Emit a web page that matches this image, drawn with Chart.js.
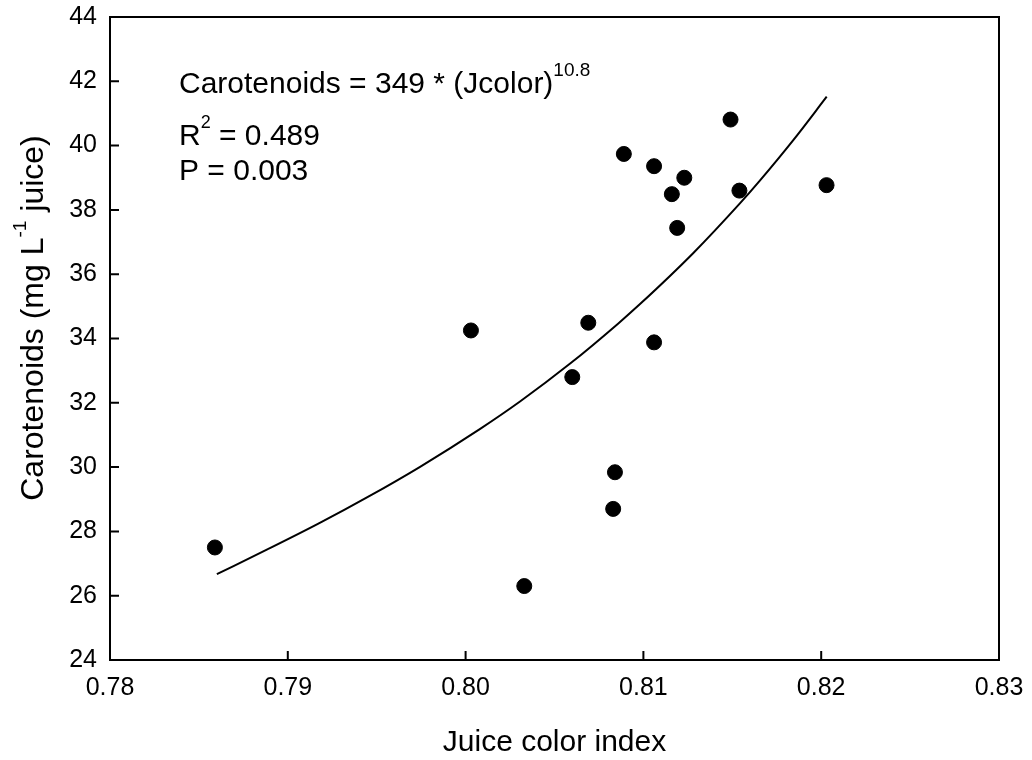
<!DOCTYPE html>
<html>
<head>
<meta charset="utf-8">
<script src="https://cdn.jsdelivr.net/npm/chart.js@4.4.1/dist/chart.umd.min.js"></script>
<style>
  body { margin: 0; background: #fff; }
  #wrap { width: 1032px; height: 760px; }
</style>
</head>
<body>
<div id="wrap"><canvas id="carotChart"></canvas></div>
<script>
// Observed data (juice color index vs carotenoids)
const colorIndex = [0.7859, 0.8003, 0.8033, 0.8060, 0.8069, 0.8084, 0.8083, 0.8089,
                    0.8106, 0.8106, 0.8116, 0.8119, 0.8123, 0.8149, 0.8154, 0.8203];
const carotenoids = [27.50, 34.25, 26.30, 32.80, 34.49, 29.84, 28.70, 39.74,
                     33.88, 39.36, 38.49, 37.44, 39.00, 40.81, 38.60, 38.77];

// Fitted curve
const fitX = [0.78601, 0.78882, 0.79172, 0.79453, 0.79744, 0.80082, 0.80306, 0.80588,
              0.80859, 0.80981, 0.81281, 0.81544, 0.81655, 0.81843, 0.82031];
const fitY = [26.67, 27.43, 28.24, 29.08, 30.01, 31.19, 32.04, 33.22,
              34.47, 35.07, 36.66, 38.21, 38.91, 40.17, 41.52];

const xTicks = [0.78, 0.79, 0.80, 0.81, 0.82, 0.83];
const yTicks = [24, 26, 28, 30, 32, 34, 36, 38, 40, 42, 44];

const FONT = 'Arial, "Liberation Sans", sans-serif';

// Draw a run of text pieces, some of them raised (superscripts)
function drawRuns(ctx, x, y, runs) {
    let cx = x;
    runs.forEach(r => {
        ctx.font = r.size + 'px ' + FONT;
        ctx.fillText(r.text, cx, y - (r.rise || 0));
        cx += ctx.measureText(r.text).width;
    });
}

function runsWidth(ctx, runs) {
    let total = 0;
    runs.forEach(r => { ctx.font = r.size + 'px ' + FONT; total += ctx.measureText(r.text).width; });
    return total;
}

// Frame, inward ticks, axis titles and the equation text
const decorPlugin = {
    id: 'decor',
    afterDraw(chart) {
        const ctx = chart.ctx;
        const area = chart.chartArea;
        const xs = chart.scales.x;
        const ys = chart.scales.y;
        ctx.save();
        ctx.strokeStyle = '#000';
        ctx.lineWidth = 2;
        ctx.strokeRect(area.left, area.top, area.right - area.left, area.bottom - area.top);

        ctx.beginPath();
        xTicks.forEach(v => {
            const px = xs.getPixelForValue(v);
            ctx.moveTo(px, area.bottom);
            ctx.lineTo(px, area.bottom - 9);
        });
        yTicks.forEach(v => {
            const py = ys.getPixelForValue(v);
            ctx.moveTo(area.left, py);
            ctx.lineTo(area.left + 9, py);
        });
        ctx.stroke();

        ctx.fillStyle = '#000';
        ctx.textBaseline = 'alphabetic';
        ctx.textAlign = 'left';

        // equation block
        drawRuns(ctx, 179, 93, [
            { text: 'Carotenoids = 349 * (Jcolor)', size: 30 },
            { text: '10.8', size: 19, rise: 17 }
        ]);
        drawRuns(ctx, 179, 145, [
            { text: 'R', size: 30 },
            { text: '2', size: 18, rise: 17 },
            { text: ' = 0.489', size: 30 }
        ]);
        drawRuns(ctx, 179, 180, [
            { text: 'P = 0.003', size: 30 }
        ]);

        // x title
        ctx.font = '30px ' + FONT;
        ctx.textAlign = 'center';
        ctx.fillText('Juice color index', (area.left + area.right) / 2, 751);

        // y title (rotated)
        ctx.save();
        ctx.translate(43, 318);
        ctx.rotate(-Math.PI / 2);
        const runs = [
            { text: 'Carotenoids (mg L', size: 32 },
            { text: '-1', size: 19, rise: 17 },
            { text: ' juice)', size: 32 }
        ];
        const total = runsWidth(ctx, runs);
        ctx.textAlign = 'left';
        drawRuns(ctx, -total / 2, 0, runs);
        ctx.restore();

        ctx.restore();
    }
};

const points = colorIndex.map((x, i) => ({ x: x, y: carotenoids[i] }));
const fitLine = fitX.map((x, i) => ({ x: x, y: fitY[i] }));

new Chart(document.getElementById('carotChart'), {
    type: 'scatter',
    data: {
        datasets: [{
            label: 'Observed',
            data: points,
            backgroundColor: '#000',
            borderColor: '#000',
            pointRadius: 7.5,
            pointHoverRadius: 7.5
        }, {
            label: 'Fit',
            data: fitLine,
            showLine: true,
            borderColor: '#000',
            borderWidth: 2,
            pointRadius: 0,
            cubicInterpolationMode: 'monotone',
            fill: false
        }]
    },
    options: {
        responsive: true,
        maintainAspectRatio: false,
        animation: false,
        events: [],
        layout: { padding: { top: 17, right: 33, left: 0, bottom: 0 } },
        plugins: {
            legend: { display: false },
            tooltip: { enabled: false }
        },
        scales: {
            x: {
                type: 'linear',
                min: 0.78,
                max: 0.83,
                afterFit(scale) {
                    scale.height = 100;
                    scale.paddingLeft = 0;
                    scale.paddingRight = 0;
                },
                afterBuildTicks(scale) { scale.ticks = xTicks.map(v => ({ value: v })); },
                border: { display: false },
                grid: { display: false, drawTicks: false },
                ticks: {
                    color: '#000',
                    padding: 13,
                    font: { family: FONT, size: 25 },
                    callback: v => v.toFixed(2)
                }
            },
            y: {
                type: 'linear',
                min: 24,
                max: 44,
                afterFit(scale) {
                    scale.width = 110;
                    scale.paddingTop = 0;
                    scale.paddingBottom = 0;
                },
                afterBuildTicks(scale) { scale.ticks = yTicks.map(v => ({ value: v })); },
                border: { display: false },
                grid: { display: false, drawTicks: false },
                ticks: {
                    color: '#000',
                    padding: 13,
                    font: { family: FONT, size: 25 },
                    callback: v => String(v)
                }
            }
        }
    },
    plugins: [decorPlugin]
});
</script>
</body>
</html>
